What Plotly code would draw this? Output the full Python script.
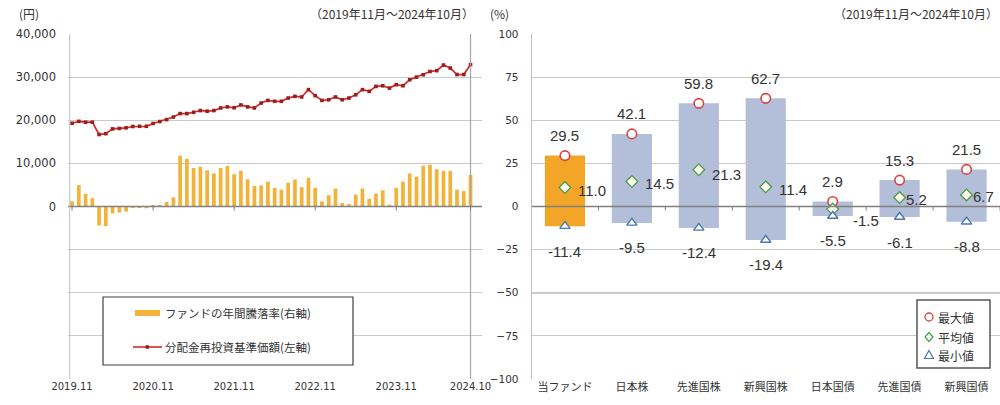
import plotly.graph_objects as go

# ---------------- data ----------------
months = []
for i in range(60):
    y = 2019 + (10 + i) // 12
    m = (10 + i) % 12 + 1
    months.append(f"{y}.{m:02d}")

nav = [19300, 19750, 19550, 19550, 16700, 16900, 18000, 18100, 18250, 18550,
       18600, 18600, 19250, 19700, 20150, 20750, 21550, 21550, 21850, 22250,
       22100, 22250, 22850, 23100, 22900, 23550, 23100, 22850, 24000, 24600,
       24400, 24400, 25150, 25550, 25400, 27100, 25700, 24600, 24750, 25400,
       24750, 25150, 25900, 27100, 26700, 27850, 28000, 27450, 28250, 28000,
       29400, 30000, 30550, 31300, 31500, 32800, 32100, 30600, 30600, 32900]

fund_return = [3.0, 12.4, 7.3, 4.8, -11.0, -11.4, -4.0, -3.5, -3.0, -0.5,
               -0.3, -1.0, 0.3, 0.5, 2.6, 5.3, 29.5, 27.6, 22.3, 23.0,
               21.0, 19.2, 22.3, 23.5, 18.7, 20.7, 15.8, 11.8, 12.2, 14.4,
               10.8, 9.8, 13.8, 15.7, 11.2, 16.7, 10.8, 3.0, 6.5, 10.4,
               2.0, 1.4, 6.9, 10.4, 4.5, 7.5, 9.4, 1.0, 10.8, 14.4,
               19.1, 17.3, 23.6, 24.2, 21.6, 20.7, 20.7, 9.8, 8.9, 18.3]

left_tick_idx = [0, 12, 24, 36, 48, 59]
left_tick_text = ["2019.11", "2020.11", "2021.11", "2022.11", "2023.11", "2024.10"]
left_y_ticks = [-40000, -30000, -20000, -10000, 0, 10000, 20000, 30000, 40000]

categories = ["当ファンド", "日本株", "先進国株", "新興国株", "日本国債", "先進国債", "新興国債"]
max_vals = [29.5, 42.1, 59.8, 62.7, 2.9, 15.3, 21.5]
avg_vals = [11.0, 14.5, 21.3, 11.4, -1.5, 5.2, 6.7]
min_vals = [-11.4, -9.5, -12.4, -19.4, -5.5, -6.1, -8.8]
right_y_ticks = [-100, -75, -50, -25, 0, 25, 50, 75, 100]

# ---------------- style ----------------
ORANGE_L = "#F3B23A"
ORANGE_R = "#F2A526"
BLUE_BAR = "#B3BED9"
RED = "#D42A2A"
RED_MK = "#9A1E1E"
GRID = "#C9C9C9"
AXIS = "#808080"
TXT = "#333333"
NUMFONT = "DejaVu Sans"
LABFONT = "Liberation Sans"
JP = "Noto Sans CJK JP"

avg_dx = [11, 11, 11, 11, 18, 4, 4]
avg_dy = [-3, -2, -5, -3, -11, -2, -2]

W, H = 1000, 405
def px(x):
    return x / W
def py(y):
    return 1 - y / H

Y_DOM = [py(379), py(34)]
LX_DOM = [px(68), px(482)]
RX_DOM = [px(531.5), 1.0]

fig = go.Figure()

# left chart
fig.add_trace(go.Bar(x=months, y=fund_return, xaxis="x", yaxis="y2",
                     marker=dict(color=ORANGE_L, line=dict(width=0)),
                     width=0.55, showlegend=False, hoverinfo="x+y"))
fig.add_trace(go.Scatter(x=months, y=nav, xaxis="x", yaxis="y", mode="lines+markers",
                         line=dict(color=RED, width=1.7),
                         marker=dict(symbol="square", size=3.6, color=RED_MK),
                         showlegend=False))

# right chart
bar_colors = [ORANGE_R] + [BLUE_BAR] * (len(categories) - 1)
fig.add_trace(go.Bar(x=categories, y=[a - b for a, b in zip(max_vals, min_vals)],
                     base=min_vals, xaxis="x2", yaxis="y3",
                     marker=dict(color=bar_colors, line=dict(width=0)),
                     width=0.6, showlegend=False))
fig.add_trace(go.Scatter(x=categories, y=max_vals, xaxis="x2", yaxis="y3", mode="markers",
                         marker=dict(symbol="circle", size=9.5, color="white",
                                     line=dict(color="#D9453F", width=1.6)),
                         showlegend=False))
fig.add_trace(go.Scatter(x=categories, y=avg_vals, xaxis="x2", yaxis="y3", mode="markers",
                         marker=dict(symbol="diamond", size=9, color="#FBFBF0",
                                     line=dict(color="#4E9A4A", width=1.3)),
                         showlegend=False))
fig.add_trace(go.Scatter(x=categories, y=min_vals, xaxis="x2", yaxis="y3", mode="markers",
                         marker=dict(symbol="triangle-up", size=9, color="white",
                                     line=dict(color="#4A76B8", width=1.4)),
                         showlegend=False))

annotations = []
for i, c in enumerate(categories):
    annotations.append(dict(x=c, y=max_vals[i], xref="x2", yref="y3", text=f"{max_vals[i]:.1f}",
                            showarrow=False, yshift=20, xanchor="center", yanchor="middle",
                            font=dict(family=LABFONT, size=15, color=TXT)))
    annotations.append(dict(x=c, y=avg_vals[i], xref="x2", yref="y3", text=f"{avg_vals[i]:.1f}",
                            showarrow=False, xanchor="left", yanchor="middle",
                            xshift=avg_dx[i], yshift=avg_dy[i],
                            font=dict(family=LABFONT, size=15, color=TXT)))
    annotations.append(dict(x=c, y=min_vals[i], xref="x2", yref="y3", text=f"{min_vals[i]:.1f}",
                            showarrow=False, yshift=-25, xanchor="center", yanchor="middle",
                            font=dict(family=LABFONT, size=15, color=TXT)))

def paper_text(x, y, text, font, xanchor="left"):
    return dict(x=px(x), y=py(y), xref="paper", yref="paper", text=text, showarrow=False,
                xanchor=xanchor, yanchor="middle", font=font)

# headers
hdr = dict(family=JP, size=12, color=TXT)
annotations += [
    paper_text(17, 13, "(円)", hdr),
    paper_text(476, 13, "（2019年11月～2024年10月）", hdr, "right"),
    paper_text(488, 13, "(%)", hdr),
    paper_text(1000, 13, "（2019年11月～2024年10月）", hdr, "right"),
]

# left legend (manual)
lg = dict(family=JP, size=11.5, color=TXT)
annotations += [
    paper_text(163, 313, "ファンドの年間騰落率(右軸)", lg),
    paper_text(163, 347, "分配金再投資基準価額(左軸)", lg),
]
# right legend (manual)
rg = dict(family=JP, size=12, color=TXT)
for label, yy in [("最大値", 317), ("平均値", 337), ("最小値", 355)]:
    annotations.append(paper_text(936, yy, label, rg))

shapes = []
# left zero line
shapes.append(dict(type="line", xref="paper", yref="y", x0=LX_DOM[0], x1=LX_DOM[1], y0=0, y1=0,
                   line=dict(color=AXIS, width=1.5), layer="above"))
# left vertical axis lines
shapes.append(dict(type="line", xref="x", yref="paper", x0=-0.35, x1=-0.35, y0=Y_DOM[0], y1=Y_DOM[1],
                   line=dict(color="#BDBDBD", width=1)))
shapes.append(dict(type="line", xref="x", yref="paper", x0=59, x1=59, y0=Y_DOM[0], y1=Y_DOM[1],
                   line=dict(color="#A6A6A6", width=1.2)))
for i in left_tick_idx:
    shapes.append(dict(type="line", xref="x", yref="y", xsizemode="scaled", ysizemode="pixel",
                       yanchor=0, x0=i, x1=i, y0=-4, y1=1, line=dict(color=AXIS, width=1)))
# right zero line
shapes.append(dict(type="line", xref="paper", yref="y3", x0=RX_DOM[0], x1=RX_DOM[1], y0=0, y1=0,
                   line=dict(color=AXIS, width=1.5), layer="above"))
shapes.append(dict(type="line", xref="paper", yref="y3", x0=RX_DOM[0], x1=RX_DOM[1], y0=-50, y1=-50,
                   line=dict(color="#9E9E9E", width=1.5), layer="below"))
shapes.append(dict(type="line", xref="paper", yref="paper", x0=RX_DOM[0], x1=RX_DOM[0],
                   y0=Y_DOM[0], y1=Y_DOM[1], line=dict(color="#BDBDBD", width=1)))
for k in range(len(categories)):
    shapes.append(dict(type="line", xref="x2", yref="y3", ysizemode="pixel", yanchor=0,
                       x0=k + 0.5, x1=k + 0.5, y0=-4, y1=0, line=dict(color=AXIS, width=1)))

# left legend box + symbols
shapes.append(dict(type="rect", xref="paper", yref="paper", x0=px(103), x1=px(353),
                   y0=py(365), y1=py(297), line=dict(color="#404040", width=1.2), fillcolor="white",
                   layer="above"))
shapes.append(dict(type="rect", xref="paper", yref="paper", x0=px(135), x1=px(160),
                   y0=py(316), y1=py(310), line=dict(width=0), fillcolor=ORANGE_L, layer="above"))
shapes.append(dict(type="line", xref="paper", yref="paper", x0=px(133), x1=px(162),
                   y0=py(347), y1=py(347), line=dict(color=RED, width=1.6), layer="above"))
shapes.append(dict(type="rect", xref="paper", yref="paper", x0=px(145.5), x1=px(149),
                   y0=py(348.8), y1=py(345.2), line=dict(width=0), fillcolor=RED_MK, layer="above"))
# right legend box + symbols
shapes.append(dict(type="rect", xref="paper", yref="paper", x0=px(917), x1=px(990),
                   y0=py(368), y1=py(300), line=dict(color="#555555", width=1.5), fillcolor="white",
                   layer="above"))
shapes.append(dict(type="circle", xref="paper", yref="paper", xsizemode="pixel", ysizemode="pixel",
                   xanchor=px(929), yanchor=py(317), x0=-4, x1=4, y0=-4, y1=4,
                   line=dict(color="#D9453F", width=1.3), fillcolor="white", layer="above"))
shapes.append(dict(type="path", xref="paper", yref="paper", xsizemode="pixel", ysizemode="pixel",
                   xanchor=px(929), yanchor=py(337), path="M0,4.5 L4,0 L0,-4.5 L-4,0 Z",
                   line=dict(color="#4E9A4A", width=1.2), fillcolor="white", layer="above"))
shapes.append(dict(type="path", xref="paper", yref="paper", xsizemode="pixel", ysizemode="pixel",
                   xanchor=px(929), yanchor=py(355), path="M0,4.5 L4.5,-3.5 L-4.5,-3.5 Z",
                   line=dict(color="#4A76B8", width=1.2), fillcolor="white", layer="above"))

fig.update_layout(
    width=W, height=H, margin=dict(l=0, r=0, t=0, b=0, autoexpand=False),
    paper_bgcolor="white", plot_bgcolor="white",
    barmode="overlay", showlegend=False,
    annotations=annotations, shapes=shapes,
    xaxis=dict(domain=LX_DOM, type="category", range=[-0.6, 60.7], anchor="y", automargin=False,
               tickmode="array", tickvals=[months[i] for i in left_tick_idx], ticktext=left_tick_text,
               showgrid=False, zeroline=False, showline=False, ticks="",
               tickfont=dict(family=NUMFONT, size=10, color=TXT)),
    yaxis=dict(domain=Y_DOM, range=[-40000, 40000], anchor="x", automargin=False,
               tickmode="array", tickvals=left_y_ticks,
               ticktext=[f"{v:,}" if v >= 0 else "" for v in left_y_ticks],
               showgrid=True, gridcolor=GRID, gridwidth=1, zeroline=False, showline=False,
               ticks="", ticklabelstandoff=11,
               tickfont=dict(family=NUMFONT, size=11.5, color=TXT)),
    yaxis2=dict(overlaying="y", range=[-100, 100], visible=False, anchor="x", automargin=False),
    xaxis2=dict(domain=RX_DOM, type="category", range=[-0.5, 6.5], anchor="y3", automargin=False,
                showgrid=False, zeroline=False, showline=False, ticks="",
                tickfont=dict(family=JP, size=11, color=TXT)),
    yaxis3=dict(domain=Y_DOM, range=[-100, 100], anchor="x2", automargin=False,
                tickmode="array", tickvals=right_y_ticks,
                showgrid=True, gridcolor=GRID, gridwidth=1, zeroline=False, showline=False,
                ticks="", ticklabelstandoff=12,
                tickfont=dict(family=NUMFONT, size=10.5, color=TXT)),
)

fig.write_html("out.html", config={"displayModeBar": False},
               post_script="document.body.style.margin='0px';document.body.style.padding='0px';"
                           "document.body.style.overflow='hidden';")
